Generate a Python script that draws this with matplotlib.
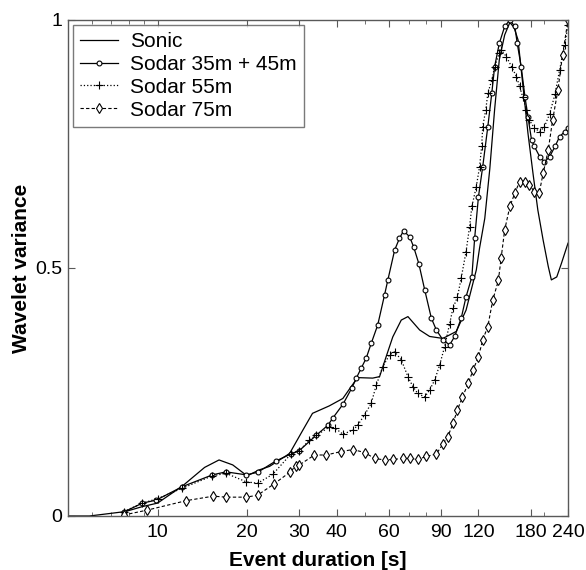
import matplotlib
matplotlib.use('Agg')
import matplotlib.pyplot as plt
import matplotlib.ticker as ticker

plt.rcParams['font.family'] = ['Liberation Sans', 'DejaVu Sans']

#%% dados (duracao em s, variancia normalizada)
sonic_t = [5.0, 5.9, 6.9, 7.8, 8.9, 10.0, 12.1, 14.4, 16.1, 17.9, 20.0, 22.0, 23.8, 27.8,
           30.8, 33.2, 37.8, 42.0, 44.8, 47.1, 52.9, 55.8, 58.7, 61.8, 66.0, 69.5, 76.1,
           82.2, 91.1, 101, 109, 118, 121, 126, 131, 136, 141, 147, 153, 158, 163, 169,
           176, 183, 190, 198, 206, 211, 220, 228, 240]
sonic_v = [0.0, 0.0, 0.005, 0.009, 0.019, 0.026, 0.060, 0.098, 0.113, 0.103, 0.081, 0.093,
           0.100, 0.126, 0.173, 0.207, 0.222, 0.237, 0.261, 0.279, 0.278, 0.281, 0.321,
           0.361, 0.395, 0.402, 0.375, 0.362, 0.358, 0.372, 0.415, 0.496, 0.54, 0.60, 0.70,
           0.82, 0.92, 0.97, 0.995, 0.985, 0.96, 0.872, 0.772, 0.691, 0.617, 0.556, 0.503,
           0.476, 0.482, 0.509, 0.55]

s35_t = [7.7, 8.9, 9.9, 12.1, 15.3, 17.0, 19.85, 21.7, 25.0, 28.1, 30.0, 34.2, 37.4, 38.8,
         42.0, 45.1, 46.6, 48.4, 50.3, 52.3, 55.0, 58.0, 59.5, 62.7, 65.1, 67.2, 70.4, 72.6,
         75.6, 79.2, 83.3, 86.6, 91.1, 96.0, 99.8, 105, 109, 114, 116.5, 120, 124, 129, 133,
         136, 141, 147, 153, 159, 162, 167, 172, 176, 181, 185, 193, 200, 208, 217, 225,
         234, 240]
s35_v = [0.008, 0.026, 0.032, 0.059, 0.083, 0.089, 0.083, 0.088, 0.111, 0.125, 0.132, 0.163,
         0.183, 0.197, 0.225, 0.259, 0.278, 0.298, 0.318, 0.348, 0.385, 0.446, 0.476, 0.536,
         0.560, 0.575, 0.563, 0.543, 0.509, 0.455, 0.399, 0.375, 0.355, 0.345, 0.362, 0.399,
         0.442, 0.482, 0.56, 0.644, 0.704, 0.785, 0.852, 0.906, 0.953, 0.987, 1.0, 0.987,
         0.953, 0.906, 0.845, 0.805, 0.758, 0.745, 0.724, 0.714, 0.724, 0.745, 0.765, 0.775,
         0.782]

s55_t = [7.7, 8.9, 10.0, 12.1, 15.3, 17.0, 19.85, 21.7, 24.4, 28.1, 30.0, 32.4, 34.2, 37.8,
         39.4, 42.0, 45.4, 47.1, 49.7, 52.3, 54.4, 57.2, 60.3, 62.7, 66.0, 69.5, 72.2, 75.0,
         79.1, 82.2, 85.5, 88.8, 92.3, 96.0, 98.5, 102, 105, 109, 112, 114, 118, 121, 123,
         124, 127, 129, 133, 136, 141, 143, 149, 155, 161, 165, 169, 174, 178, 185, 193,
         200, 208, 217, 225, 234, 240]
s55_v = [0.009, 0.026, 0.035, 0.056, 0.081, 0.086, 0.069, 0.066, 0.084, 0.125, 0.132, 0.153,
         0.163, 0.179, 0.178, 0.165, 0.173, 0.183, 0.204, 0.227, 0.264, 0.301, 0.325, 0.331,
         0.315, 0.281, 0.261, 0.247, 0.240, 0.254, 0.274, 0.304, 0.341, 0.388, 0.419, 0.442,
         0.480, 0.533, 0.583, 0.624, 0.664, 0.704, 0.745, 0.785, 0.819, 0.852, 0.879, 0.906,
         0.933, 0.940, 0.926, 0.906, 0.886, 0.866, 0.845, 0.819, 0.798, 0.782, 0.775, 0.785,
         0.81, 0.85, 0.90, 0.95, 0.99]

s75_t = [7.7, 9.25, 12.5, 15.4, 17.0, 19.9, 21.7, 24.7, 27.8, 29.2, 30.0, 33.7, 36.9, 41.5,
         45.4, 49.7, 53.7, 58.0, 61.8, 66.8, 70.4, 75.0, 80.1, 86.6, 91.1, 94.7, 98.5, 102,
         106, 111, 115, 120, 124, 129, 134, 140, 143, 147, 153, 159, 165, 172, 178, 185,
         192, 198, 206, 213, 222, 230, 240]
s75_v = [0.002, 0.012, 0.031, 0.040, 0.038, 0.038, 0.042, 0.065, 0.088, 0.101, 0.103, 0.123,
         0.123, 0.130, 0.134, 0.128, 0.116, 0.113, 0.114, 0.116, 0.116, 0.114, 0.120, 0.125,
         0.145, 0.160, 0.187, 0.214, 0.240, 0.268, 0.294, 0.321, 0.355, 0.382, 0.435, 0.475,
         0.52, 0.577, 0.624, 0.651, 0.674, 0.674, 0.667, 0.654, 0.651, 0.691, 0.738, 0.798,
         0.859, 0.929, 1.0]

xticks = [10, 20, 30, 40, 60, 90, 120, 180, 240]
yticks = [0, 0.5, 1]
ylabels = ['0', '0.5', '1']

#%% grafico
fig = plt.figure(figsize=(5.86, 5.70), dpi=100)
ax = fig.add_axes([68/586, 54/570, 500/586, 496/570])

ax.plot(sonic_t, sonic_v, '-', color='black', lw=0.9, label='Sonic')
ax.plot(s35_t, s35_v, '-', color='black', lw=0.9, marker='o', ms=3.5,
        mfc='white', mec='black', mew=0.8, label='Sodar 35m + 45m')
ax.plot(s55_t, s55_v, ':', color='black', lw=0.9, marker='+', ms=6,
        mec='black', mew=0.8, label='Sodar 55m')
ax.plot(s75_t, s75_v, '--', color='black', lw=0.8, dashes=(3, 2), marker='d', ms=5.5,
        mfc='white', mec='black', mew=0.8, label='Sodar 75m')

ax.set_xscale('log')
ax.set_xlim(5, 240)
ax.set_ylim(0, 1)
ax.xaxis.set_major_locator(ticker.FixedLocator(xticks))
ax.xaxis.set_major_formatter(ticker.FixedFormatter([str(t) for t in xticks]))
ax.xaxis.set_minor_locator(ticker.LogLocator(base=10, subs=range(2, 10)))
ax.xaxis.set_minor_formatter(ticker.NullFormatter())
ax.set_yticks(yticks)
ax.set_yticklabels(ylabels)

ax.tick_params(which='both', direction='in', top=True, right=True,
               labelsize=14, color='0.35')
ax.tick_params(axis='x', pad=6)
ax.tick_params(axis='y', pad=4)
ax.tick_params(which='major', length=5)
ax.tick_params(which='minor', length=3)
for s in ax.spines.values():
    s.set_color('0.35')
    s.set_linewidth(1.0)

ax.set_xlabel('Event duration [s]', fontsize=15, fontweight='bold', labelpad=7)
ax.set_ylabel('Wavelet variance', fontsize=15, fontweight='bold', labelpad=3)

leg = ax.legend(loc='upper left', bbox_to_anchor=(0.01, 0.99), borderaxespad=0,
                fontsize=15, frameon=True, fancybox=False, handlelength=1.8,
                labelspacing=0.18, borderpad=0.35, handletextpad=0.6)
leg.get_frame().set_edgecolor('0.35')
leg.get_frame().set_linewidth(1.0)

fig.savefig('out.png', dpi=100)
